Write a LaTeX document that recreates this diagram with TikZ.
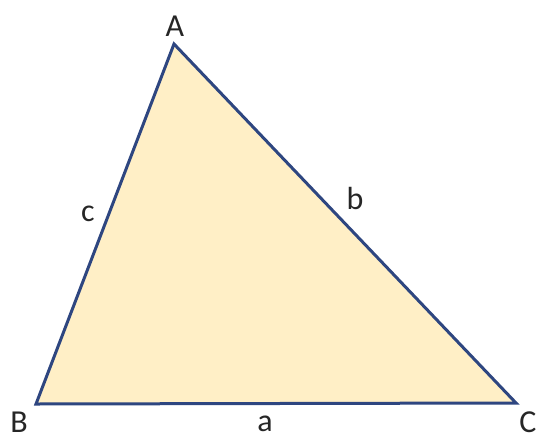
\documentclass[tikz,border=0pt]{standalone}
\usepackage{fontspec}
\setmainfont{Carlito}
\definecolor{edge}{HTML}{2E4680}
\definecolor{tfill}{HTML}{FFEFC6}
\begin{document}
\begin{tikzpicture}[x=1pt,y=-1pt,
  lbl/.style={font=\fontsize{32}{34}\selectfont, text=black!85, inner sep=0pt}]
\useasboundingbox (0,0) rectangle (537,439);
\coordinate (A) at (174,44);
\coordinate (B) at (36,404);
\coordinate (C) at (516,403);
\filldraw[fill=tfill, draw=edge, line width=3pt, line join=miter] (A) -- (B) -- (C) -- cycle;
\node[lbl] (lA) at (175,26) {A};
\node[lbl] (lB) at (19,422) {B};
\node[lbl] (lC) at (528,422) {C};
\node[lbl] (la) at (265,424) {a};
\node[lbl] (lb) at (355,198) {b};
\node[lbl] (lc) at (88,214) {c};
\end{tikzpicture}
\end{document}
